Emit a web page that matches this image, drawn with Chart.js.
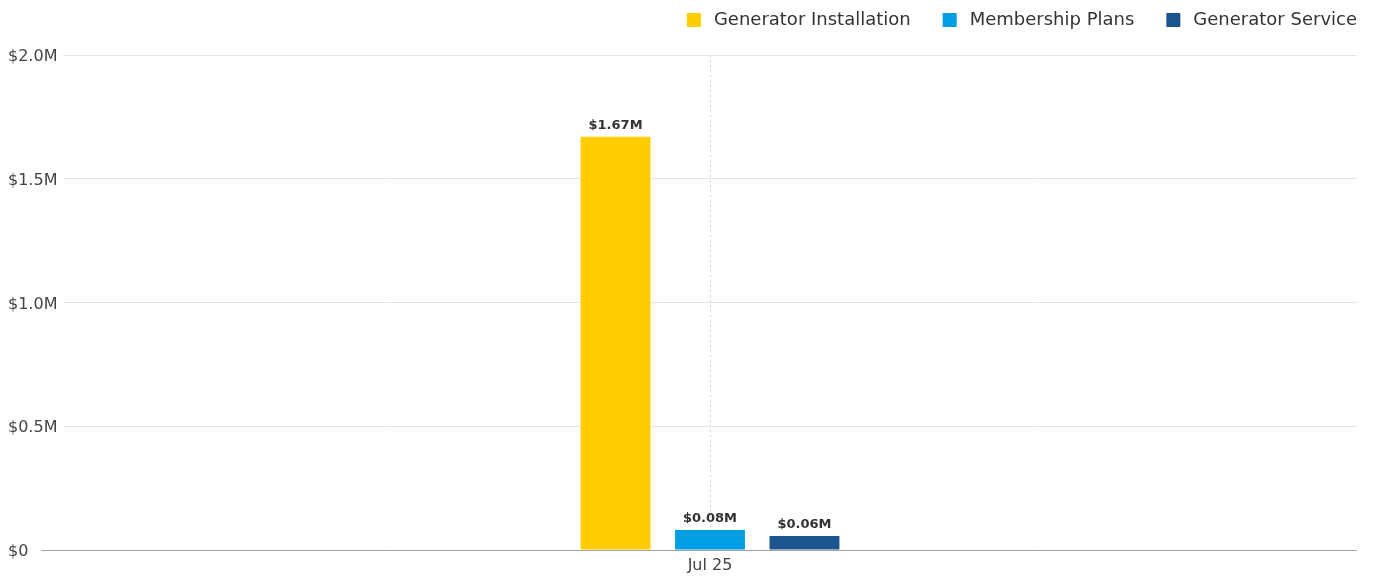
<!DOCTYPE html>
<html lang="en">
<head>
    <meta charset="UTF-8">
    <title>Revenue by service line</title>
    <script src="https://cdn.jsdelivr.net/npm/chart.js"></script>
    <style>
        html, body { margin: 0; padding: 0; background: #fff; }
        .graph { position: relative; width: 1373px; height: 577px; }
    </style>
</head>
<body>
    <div class="graph">
        <canvas id="myChart"></canvas>
    </div>

<script>
    // data
    const categorias = ['Jul 25'];
    const seriesNomes = ['Generator Installation', 'Membership Plans', 'Generator Service'];
    const instalacao = [1670000];
    const planos = [81000];
    const servico = [57000];
    const yTicks = [0, 500000, 1000000, 1500000, 2000000];

    const cores = ['#FFCD00', '#009FE3', '#1C558E'];
    const fonte = '"DejaVu Sans", "Noto Sans", sans-serif';

    function formatarM(v) {
        if (v === 0) return '$0';
        return '$' + (v / 1000000).toFixed(1) + 'M';
    }

    // rótulos em cima das barras
    const rotulosBarras = {
        id: 'rotulosBarras',
        afterDatasetsDraw(chart) {
            const ctx = chart.ctx;
            ctx.save();
            ctx.font = 'bold 13px ' + fonte;
            ctx.fillStyle = '#333';
            ctx.textAlign = 'center';
            ctx.textBaseline = 'bottom';
            chart.data.datasets.forEach((ds, i) => {
                const meta = chart.getDatasetMeta(i);
                meta.data.forEach((bar, j) => {
                    const v = ds.data[j];
                    ctx.fillText('$' + (v / 1000000).toFixed(2) + 'M', bar.x, bar.y - 5);
                });
            });
            ctx.restore();
        }
    };

    // sobe a legenda e encosta na direita
    const ajusteLegenda = {
        id: 'ajusteLegenda',
        afterLayout(chart) {
            const lg = chart.legend;
            if (!lg) return;
            lg.top -= 19;
            lg.bottom -= 19;
            lg.left += 28;
            lg.right += 28;
        }
    };

    const dados = {
        labels: categorias,
        datasets: [
            { label: seriesNomes[0], data: instalacao, backgroundColor: cores[0] },
            { label: seriesNomes[1], data: planos, backgroundColor: cores[1] },
            { label: seriesNomes[2], data: servico, backgroundColor: cores[2] }
        ]
    };

    const config = {
        type: 'bar',
        data: dados,
        options: {
            responsive: true,
            maintainAspectRatio: false,
            animation: false,
            categoryPercentage: 0.219,
            barPercentage: 0.74,
            layout: { padding: { left: 8, right: 16, top: 0, bottom: 0 } },
            plugins: {
                tooltip: { enabled: false },
                legend: {
                    position: 'top',
                    align: 'end',
                    maxHeight: 55,
                    labels: {
                        // quadrado de 22 com borda branca grossa -> fica 14 visível, texto mais afastado
                        boxWidth: 22,
                        boxHeight: 22,
                        padding: 28,
                        color: '#333',
                        font: { family: fonte, size: 18 },
                        generateLabels(chart) {
                            const itens = Chart.defaults.plugins.legend.labels.generateLabels(chart);
                            itens.forEach(it => {
                                it.strokeStyle = '#fff';
                                it.lineWidth = 8;
                            });
                            return itens;
                        }
                    }
                }
            },
            scales: {
                x: {
                    afterFit(scale) {
                        scale.height = 27;
                    },
                    grid: {
                        offset: false,
                        color: '#d4d4d4',
                        drawTicks: false
                    },
                    border: { display: false, dash: [2, 3] },
                    ticks: {
                        color: '#444',
                        padding: 6,
                        font: { family: fonte, size: 16 }
                    }
                },
                y: {
                    min: 0,
                    max: 2000000,
                    afterBuildTicks(scale) {
                        scale.ticks = yTicks.map(v => ({ value: v }));
                    },
                    afterFit(scale) {
                        scale.width = 55;
                    },
                    border: { display: false },
                    grid: {
                        color: c => c.tick && c.tick.value === 0 ? '#a0a0a0' : '#e4e4e4',
                        tickColor: c => c.tick && c.tick.value === 0 ? '#a0a0a0' : '#e4e4e4',
                        lineWidth: 1,
                        tickLength: 55
                    },
                    ticks: {
                        crossAlign: 'far',
                        padding: 0,
                        labelOffset: 2,
                        color: '#444',
                        font: { family: fonte, size: 16 },
                        showLabelBackdrop: true,
                        backdropColor: '#fff',
                        backdropPadding: { left: 2, right: 13, top: 3, bottom: 3 },
                        callback: v => formatarM(v)
                    }
                }
            }
        },
        plugins: [rotulosBarras, ajusteLegenda]
    };

    let myChart = new Chart(document.getElementById('myChart'), config);
</script>
</body>
</html>
